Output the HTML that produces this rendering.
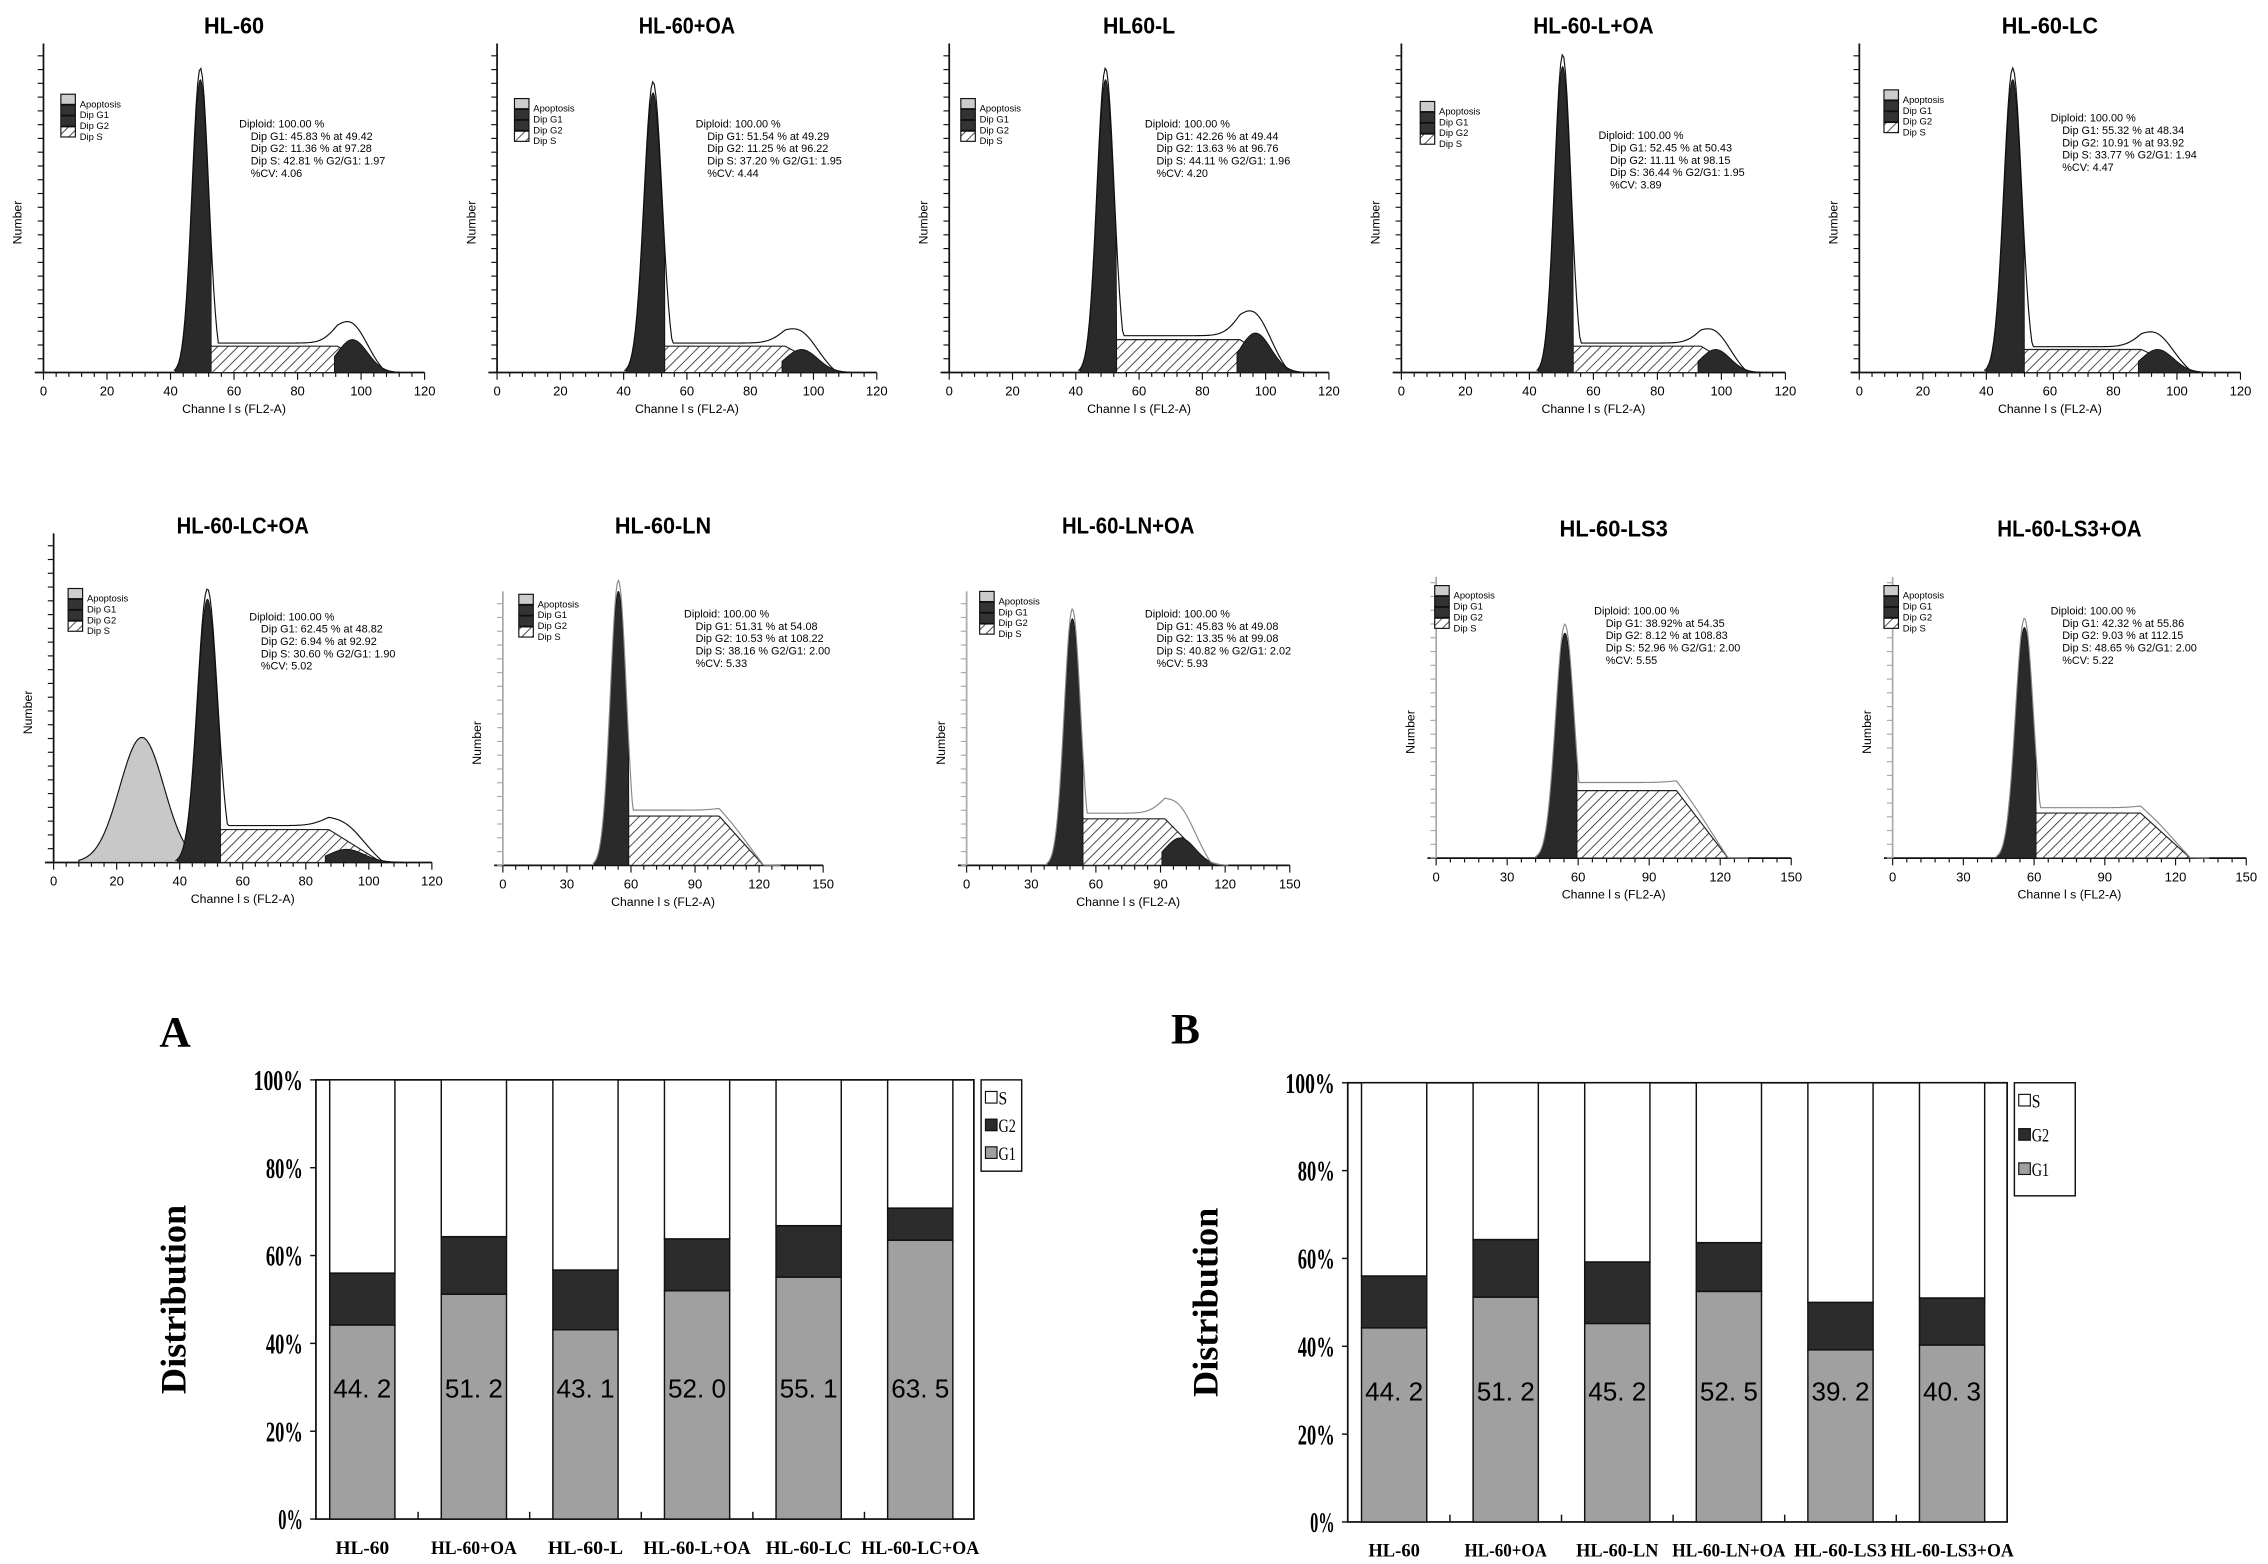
<!DOCTYPE html>
<html><head><meta charset="utf-8">
<style>
html,body{margin:0;padding:0;background:#fff;}
svg{display:block;}
text{font-family:"Liberation Sans",sans-serif;}
.serif{font-family:"Liberation Serif",serif;}
</style></head>
<body>
<svg id="fig" xmlns="http://www.w3.org/2000/svg" width="2268" height="1564" viewBox="0 0 1565 1079" preserveAspectRatio="none">
<defs>
<pattern id="hatch" patternUnits="userSpaceOnUse" width="5" height="5" patternTransform="rotate(45)">
<rect width="5" height="5" fill="#fff"/><line x1="0" y1="0" x2="0" y2="5" stroke="#222" stroke-width="1.1"/>
</pattern>
</defs>
<g id="hists"></g>
<g id="bars"></g>
</svg>
<script>
// ---------- histogram data ----------
const histTitles = ["HL-60","HL-60+OA","HL60-L","HL-60-L+OA","HL-60-LC","HL-60-LC+OA","HL-60-LN","HL-60-LN+OA","HL-60-LS3","HL-60-LS3+OA"];
const g1Pos = [49.4,49.3,49.4,50.4,48.3,48.8,54.1,49.1,54.4,55.9];
const g2Pos = [97.3,96.2,96.8,98.2,93.9,92.9,108.2,99.1,108.8,112.2];
const peakH = [0.89,0.85,0.89,0.93,0.89,0.80,1.0,0.90,0.80,0.82];
const sLevel = [0.08,0.08,0.10,0.08,0.07,0.10,0.18,0.17,0.24,0.16];
const g2H = [0.10,0.07,0.12,0.07,0.07,0.04,0.0,0.10,0.0,0.0];
const cvVals = [4.06,4.44,4.2,3.89,4.47,5.02,5.33,5.93,5.55,5.22];
const apoH = [0,0,0,0,0,0.38,0,0,0,0];
const xMaxs = [120,120,120,120,120,120,150,150,150,150];
const statLines = [
 ["Diploid: 100.00 %","Dip G1: 45.83 % at 49.42","Dip G2: 11.36 % at 97.28","Dip S: 42.81 %     G2/G1: 1.97","%CV: 4.06"],
 ["Diploid: 100.00 %","Dip G1: 51.54 % at 49.29","Dip G2: 11.25 % at 96.22","Dip S: 37.20 %     G2/G1: 1.95","%CV: 4.44"],
 ["Diploid: 100.00 %","Dip G1: 42.26 % at 49.44","Dip G2: 13.63 % at 96.76","Dip S: 44.11 %     G2/G1: 1.96","%CV: 4.20"],
 ["Diploid: 100.00 %","Dip G1: 52.45 % at 50.43","Dip G2: 11.11 % at 98.15","Dip S: 36.44 %     G2/G1: 1.95","%CV: 3.89"],
 ["Diploid: 100.00 %","Dip G1: 55.32 % at 48.34","Dip G2: 10.91 % at 93.92","Dip S: 33.77 %     G2/G1: 1.94","%CV: 4.47"],
 ["Diploid: 100.00 %","Dip G1: 62.45 % at 48.82","Dip G2: 6.94 % at 92.92","Dip S: 30.60 %     G2/G1: 1.90","%CV: 5.02"],
 ["Diploid: 100.00 %","Dip G1: 51.31 % at 54.08","Dip G2: 10.53 % at 108.22","Dip S: 38.16 %   G2/G1: 2.00","%CV: 5.33"],
 ["Diploid: 100.00 %","Dip G1: 45.83 % at 49.08","Dip G2: 13.35 % at 99.08","Dip S: 40.82 %   G2/G1: 2.02","%CV: 5.93"],
 ["Diploid: 100.00 %","Dip G1: 38.92% at 54.35","Dip G2: 8.12 % at 108.83","Dip S: 52.96 %   G2/G1: 2.00","%CV: 5.55"],
 ["Diploid: 100.00 %","Dip G1: 42.32 % at 55.86","Dip G2: 9.03 % at 112.15","Dip S: 48.65 %   G2/G1: 2.00","%CV: 5.22"]
];
// ---------- bar chart data ----------
const catsA = ["HL-60","HL-60+OA","HL-60-L","HL-60-L+OA","HL-60-LC","HL-60-LC+OA"];
const g1A = [44.2,51.2,43.1,52.0,55.1,63.5];
const g2A = [11.8,13.1,13.6,11.8,11.7,7.3];
const catsB = ["HL-60","HL-60+OA","HL-60-LN","HL-60-LN+OA","HL-60-LS3","HL-60-LS3+OA"];
const g1B = [44.2,51.2,45.2,52.5,39.2,40.3];
const g2B = [11.8,13.1,14.0,11.1,10.8,10.7];
const yTicks = [0,20,40,60,80,100];
const legendLabels = ["S","G2","G1"];

// ---------- layout ----------
const panels = [
 {x0:30,x1:293,top:30,base:257,tx:165,ty:88,lx:42,ly:65,title:17,line:"#111"},
 {x0:343,x1:605,top:30,base:257,tx:480,ty:88,lx:355,ly:68,title:17,line:"#111"},
 {x0:655,x1:917,top:30,base:257,tx:790,ty:88,lx:663,ly:68,title:17,line:"#111"},
 {x0:967,x1:1232,top:30,base:257,tx:1103,ty:96,lx:980,ly:70,title:17,line:"#111"},
 {x0:1283,x1:1546,top:30,base:257,tx:1415,ty:84,lx:1300,ly:62,title:17,line:"#111"},
 {x0:37,x1:298,top:368,base:595,tx:172,ty:428,lx:47,ly:406,title:362,line:"#111"},
 {x0:347,x1:568,top:408,base:597,tx:472,ty:426,lx:358,ly:410,title:362,line:"#888"},
 {x0:667,x1:890,top:408,base:597,tx:790,ty:426,lx:676,ly:408,title:362,line:"#888"},
 {x0:991,x1:1236,top:398,base:592,tx:1100,ty:424,lx:990,ly:404,title:364,line:"#888"},
 {x0:1306,x1:1550,top:398,base:592,tx:1415,ty:424,lx:1300,ly:404,title:364,line:"#888"}
];
const NS="http://www.w3.org/2000/svg";
function mk(tag,attrs,parent){const e=document.createElementNS(NS,tag);for(const k in attrs)e.setAttribute(k,attrs[k]);parent.appendChild(e);return e;}
function txt(parent,x,y,s,size,opts){const t=mk('text',Object.assign({x:x,y:y,'font-size':size},opts||{}),parent);t.textContent=s;return t;}

const H=document.getElementById('hists');
panels.forEach((p,i)=>{
  const g=mk('g',{},H);
  
  
  const xm=xMaxs[i];
  const X=v=>p.x0+(v/xm)*(p.x1-p.x0);
  const ah=p.base-p.top;
  const Y=f=>p.base-f*ah;
  const cx=(p.x0+p.x1)/2;
  const tt=txt(g,cx,p.title+6,histTitles[i],16,{'text-anchor':'middle','font-weight':'bold',textLength:histTitles[i].length*8.3,lengthAdjust:'spacingAndGlyphs'});
  
  
  mk('line',{x1:p.x0-6,y1:p.base,x2:p.x1,y2:p.base,stroke:'#111','stroke-width':1.2},g);
  mk('line',{x1:p.x0,y1:p.top,x2:p.x0,y2:p.base,stroke:i>=6?'#aaa':'#111','stroke-width':1.2},g);
  for(let yy=p.base;yy>=p.top;yy-=9.5){mk('line',{x1:p.x0-4,y1:yy,x2:p.x0,y2:yy,stroke:i>=6?'#aaa':'#111','stroke-width':0.8},g);}
  const step=xm===120?20:30, minor=xm===120?4:6;
  for(let v=0;v<=xm;v+=minor){mk('line',{x1:X(v),y1:p.base,x2:X(v),y2:p.base+(v%step===0?5:3),stroke:'#111','stroke-width':0.8},g);}
  for(let v=0;v<=xm;v+=step){txt(g,X(v),p.base+16,String(v),9,{'text-anchor':'middle'});}
  const xl=txt(g,cx,p.base+28,'Channe l s (FL2-A)',8.5,{'text-anchor':'middle'});
  
  
  const yl=txt(g,0,0,'Number',8.5,{'text-anchor':'middle',transform:`translate(${p.x0-15},${(p.top+p.base)/2+10}) rotate(-90)`});
  
  
  const s1=1.3*cvVals[i]/100*g1Pos[i], s2=1.2*cvVals[i]/100*g2Pos[i];
  const gauss=(v,m,s,h)=>h*Math.exp(-0.5*((v-m)/s)**2);
  const sAt=v=>{const a=g1Pos[i],b=g2Pos[i];if(v<a-1.5*s1||v>b+2*s2)return 0;
    if(v<a)return sLevel[i]*(v-(a-1.5*s1))/(1.5*s1);
    if(v<=b-s2)return sLevel[i];
    return sLevel[i]*Math.max(0,1-(v-(b-s2))/(3*s2));};
  if(apoH[i]>0){
    let pts=[];for(let v=8;v<=44;v+=0.5){pts.push(X(v)+','+Y(gauss(v,28,7,apoH[i])));}
    const a=mk('polygon',{points:X(8)+','+p.base+' '+pts.join(' ')+' '+X(44)+','+p.base,fill:'#c8c8c8',stroke:'#111','stroke-width':0.8},g);
    
    
  }
  let sp=[];for(let v=g1Pos[i]-1.5*s1;v<=g2Pos[i]+2*s2;v+=0.5){sp.push(X(v)+','+Y(sAt(v)));}
  const sr=mk('polygon',{points:X(g1Pos[i]-1.5*s1)+','+p.base+' '+sp.join(' ')+' '+X(g2Pos[i]+2*s2)+','+p.base,fill:'url(#hatch)',stroke:'#222','stroke-width':0.8},g);
  
  
  if(g2H[i]>0){
    let p2=[];for(let v=g2Pos[i]-1.2*s2;v<=g2Pos[i]+3*s2;v+=0.4){p2.push(X(v)+','+Y(gauss(v,g2Pos[i],s2,g2H[i])));}
    const gg=mk('polygon',{points:X(g2Pos[i]-1.2*s2)+','+p.base+' '+p2.join(' ')+' '+X(g2Pos[i]+3*s2)+','+p.base,fill:'#2a2a2a',stroke:'#111','stroke-width':0.6},g);
    
    
  }
  let p1=[];for(let v=g1Pos[i]-3*s1;v<=g1Pos[i]+1.3*s1;v+=0.2){p1.push(X(v)+','+Y(gauss(v,g1Pos[i],s1,peakH[i])));}
  const endV=g1Pos[i]+1.3*s1;
  const g1=mk('polygon',{points:X(g1Pos[i]-3*s1)+','+p.base+' '+p1.join(' ')+' '+X(endV)+','+Y(sAt(endV))+' '+X(endV)+','+p.base,fill:'#2a2a2a',stroke:'#111','stroke-width':0.6},g);
  
  
  let op=[];for(let v=g1Pos[i]-3.2*s1;v<=g2Pos[i]+3.2*s2;v+=0.5){
    const f=Math.max(gauss(v,g1Pos[i],s1,peakH[i]*1.04),sAt(v)*1.12+gauss(v,g2Pos[i],s2,g2H[i]*0.8+0.01)*(v>g1Pos[i]?1:0),0);
    op.push(X(v)+','+Y(f));}
  mk('polyline',{points:op.join(' '),fill:'none',stroke:p.line,'stroke-width':0.8},g);
  const lg=mk('g',{},g);
  
  
  const fills=['#ccc','#333','#333','url(#hatch)'];const names=['Apoptosis','Dip G1','Dip G2','Dip S'];
  fills.forEach((f,k)=>{mk('rect',{x:p.lx,y:p.ly+k*7.5,width:10,height:7,fill:f,stroke:'#111','stroke-width':0.8},lg);
    txt(lg,p.lx+13,p.ly+k*7.5+9,names[k],6.5,{});});
  const st=mk('g',{},g);
  
  
  statLines[i].forEach((s,k)=>{txt(st,p.tx+(k?8:0),p.ty+k*8.5,s,7.5,{'xml:space':'preserve'});});
});

// ---------- bar charts ----------
const B=document.getElementById('bars');
function barChart(cfg,cats,g1,g2,letter){
  const g=mk('g',{},B);
  
  
  const Y=v=>cfg.bot-(v/100)*(cfg.bot-cfg.top);
  const Xc=i=>cfg.left+32+i*77;
  const lt=txt(g,cfg.letterX,cfg.letterY,letter,30,{class:'serif','font-weight':'bold'});
  
  
  const yt=txt(g,0,0,'Distribution',25,{class:'serif','font-weight':'bold','text-anchor':'middle',transform:`translate(${cfg.left-90},${(cfg.top+cfg.bot)/2}) rotate(-90)`});
  
  
  mk('rect',{x:cfg.left,y:cfg.top,width:cfg.right-cfg.left,height:cfg.bot-cfg.top,fill:'#fff',stroke:'#111','stroke-width':1.2},g);
  yTicks.forEach(v=>{mk('line',{x1:cfg.left-4,y1:Y(v),x2:cfg.left,y2:Y(v),stroke:'#111'},g);
    const s=v+'%';
    const t=txt(g,cfg.left-9,Y(v)+7,s,20,{class:'serif','font-weight':'bold','text-anchor':'end',textLength:s.length*8.5,lengthAdjust:'spacingAndGlyphs'});
    
    });
  for(let k=1;k<cats.length;k++){const xx=(Xc(k-1)+Xc(k))/2;mk('line',{x1:xx,y1:cfg.bot,x2:xx,y2:cfg.bot-5,stroke:'#111'},g);}
  cats.forEach((c,i)=>{
    const x=Xc(i)-22.5,w=45;
    const r1=mk('rect',{x:x,y:Y(g1[i]),width:w,height:Y(0)-Y(g1[i]),fill:'#a0a0a0',stroke:'#111','stroke-width':1},g);
    
    
    const r2=mk('rect',{x:x,y:Y(g1[i]+g2[i]),width:w,height:Y(g1[i])-Y(g1[i]+g2[i]),fill:'#2c2c2c',stroke:'#111','stroke-width':1},g);
    
    
    const r3=mk('rect',{x:x,y:Y(100),width:w,height:Y(g1[i]+g2[i])-Y(100),fill:'#fff',stroke:'#111','stroke-width':1},g);
    
    
    const v=txt(g,Xc(i),Y(30)+7,g1[i].toFixed(1).replace('.','. '),18,{'text-anchor':'middle'});
    
    
    const cl=txt(g,Xc(i),cfg.bot+24,c,13,{class:'serif','font-weight':'bold','text-anchor':'middle',textLength:c.length*cfg.catW,lengthAdjust:'spacingAndGlyphs'});
    
    
  });
  const lg=mk('g',{},g);
  
  
  mk('rect',{x:cfg.right+5,y:cfg.top,width:cfg.legW,height:cfg.legH,fill:'#fff',stroke:'#111'},lg);
  const lf=['#fff','#2c2c2c','#a0a0a0'];
  legendLabels.forEach((s,k)=>{const yy=cfg.top+8+k*cfg.legH/3.3;
    mk('rect',{x:cfg.right+8,y:yy,width:8,height:8,fill:lf[k],stroke:'#111','stroke-width':0.8},lg);
    txt(lg,cfg.right+17,yy+9,s,13,{class:'serif',textLength:s.length*6,lengthAdjust:'spacingAndGlyphs'});});
}
barChart({left:218,right:672,top:745,bot:1048,letterX:110,letterY:722,legW:28,legH:63,catW:7.4},catsA,g1A,g2A,'A');
barChart({left:930,right:1385,top:747,bot:1050,letterX:808,letterY:720,legW:42,legH:78,catW:7.1},catsB,g1B,g2B,'B');
</script>
</body></html>
